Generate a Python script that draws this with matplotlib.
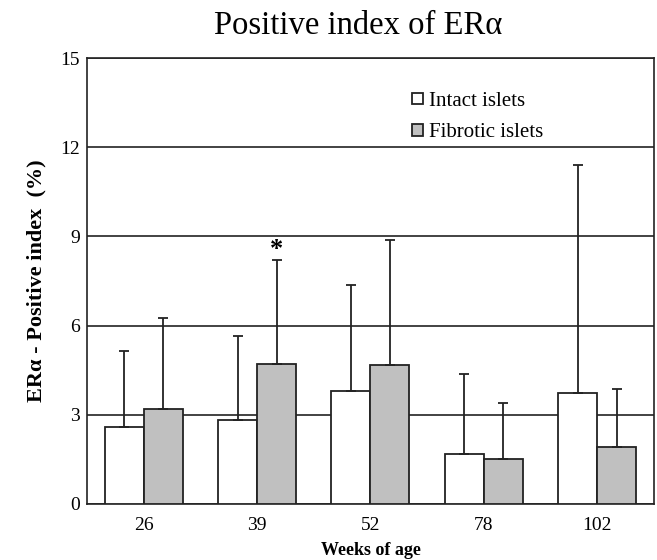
import matplotlib
matplotlib.use("Agg")
import matplotlib.pyplot as plt
import numpy as np

plt.rcParams['font.family'] = ['Liberation Serif', 'DejaVu Serif']

weeks = ['26', '39', '52', '78', '102']
intact = [2.59, 2.83, 3.81, 1.68, 3.72]
intact_sd = [2.56, 2.82, 3.55, 2.69, 7.67]
fibrotic = [3.2, 4.71, 4.67, 1.50, 1.93]
fibrotic_sd = [3.06, 3.50, 4.21, 1.91, 1.93]
sig_marks = ['', '*', '', '', '']

fig = plt.figure(figsize=(6.57, 5.6), dpi=100)
ax = fig.add_axes([0.1324, 0.1, 0.863, 0.7964])

x = np.arange(len(weeks))
w = 0.344
ekw = dict(elinewidth=1.3, capsize=3.5, capthick=1.3, ecolor='#222222')
ax.bar(x - w / 2, intact, w, color='white', edgecolor='#222222', linewidth=1.3,
       yerr=[np.zeros(len(intact)), intact_sd], error_kw=ekw, label='Intact islets', zorder=3)
ax.bar(x + w / 2, fibrotic, w, color='#c0c0c0', edgecolor='#222222', linewidth=1.3,
       yerr=[np.zeros(len(fibrotic)), fibrotic_sd], error_kw=ekw, label='Fibrotic islets', zorder=3)

for i, s in enumerate(sig_marks):
    if s:
        ax.text(x[i] + w / 2, fibrotic[i] + fibrotic_sd[i] - 0.05, s, ha='center', va='bottom',
                fontsize=19, fontweight='bold')

ax.set_xlim(-0.5, len(weeks) - 0.5)
ax.set_ylim(0, 15)
ax.set_yticks([0, 3, 6, 9, 12, 15])
ax.set_xticks(x)
ax.set_xticklabels(weeks)
ax.tick_params(length=0, labelsize=14)
ax.tick_params(axis='x', pad=9)
ax.tick_params(axis='y', pad=5)
ax.yaxis.grid(True, color='#222222', linewidth=1.2)
ax.set_axisbelow(True)
for sp in ax.spines.values():
    sp.set_linewidth(1.2)
    sp.set_color('#222222')

ax.set_ylabel('ERα - Positive index  (%)', fontsize=16, fontweight='bold', labelpad=10)
ax.set_xlabel('Weeks of age', fontsize=13, fontweight='bold', labelpad=6)
fig.text(0.545, 1 - 34 / 560, 'Positive index of ERα', fontsize=23.5, ha='center', va='baseline')

leg = ax.legend(loc='upper left', bbox_to_anchor=(0.541, 0.966), frameon=False, fontsize=15,
                handlelength=0.5, handleheight=0.5, handletextpad=0.3, labelspacing=0.6)

fig.savefig('out.png', dpi=100)
